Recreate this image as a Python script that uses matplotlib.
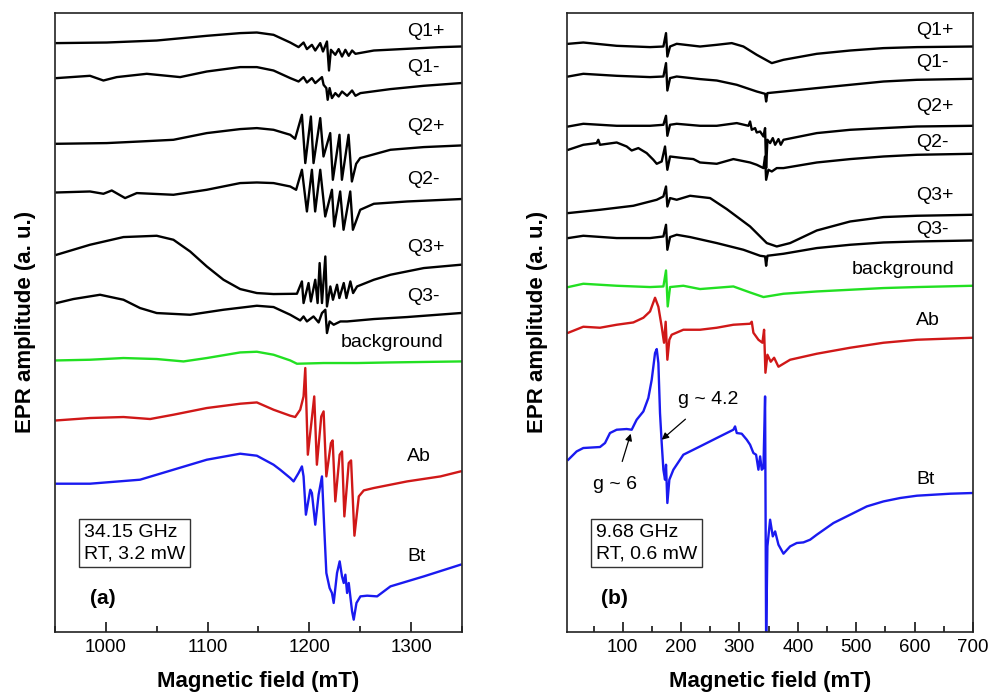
import numpy as np
import matplotlib

matplotlib.use("Agg")
import matplotlib.pyplot as plt
from matplotlib.ticker import MultipleLocator

plt.rcParams["font.family"] = ["Liberation Sans", "DejaVu Sans"]

# ---- panel (a): 34.15 GHz, field (mT) / amplitude (a.u., traces already offset)
A_Q1P = [(951.6, 588.7), (1000.9, 589.3), (1050, 591.3), (1099.2, 596), (1132, 598.7),
         (1148.4, 599.3), (1164.8, 597), (1181.2, 589.3), (1189.4, 584.7), (1194.3, 589.3),
         (1197.6, 582.7), (1202.5, 587), (1205.8, 581.3), (1210.7, 588.7), (1213.4, 580.3),
         (1217.3, 590.3), (1219.3, 561.3), (1221.2, 582), (1225.5, 577), (1228.8, 582.7),
         (1232.1, 575.3), (1235.4, 582), (1238.7, 576), (1242, 581.3), (1245.3, 578),
         (1263.4, 581.3), (1296.1, 583), (1328.9, 584.7), (1348.6, 585.3)]
A_Q1M = [(951.6, 553.7), (984.4, 556), (997.6, 551.3), (1010.7, 554.7), (1040.2, 558),
         (1073, 554.7), (1099.2, 560.3), (1132, 564.7), (1148.4, 564.7), (1164.8, 561.3),
         (1181.2, 553.7), (1189.4, 550.3), (1194.3, 554.7), (1197.6, 549.3), (1202.5, 553.7),
         (1205.8, 548.7), (1212.4, 554.7), (1214, 547), (1216.7, 543.7), (1218, 532),
         (1219.9, 543.7), (1222.2, 533.7), (1225.5, 538.7), (1228.8, 535.3), (1232.1, 540.3),
         (1237.1, 536), (1242, 541.3), (1245.3, 536), (1250.2, 538.7), (1279.7, 542.7),
         (1312.5, 546), (1348.6, 548.7)]
A_Q2P = [(951.6, 488), (1000.9, 488.7), (1033.6, 490.3), (1066.4, 492), (1099.2, 498.7),
         (1132, 502.7), (1148.4, 503.7), (1164.8, 502), (1181.2, 497), (1186, 493),
         (1192.7, 517), (1196, 468.7), (1201.5, 515.3), (1204.1, 468.7), (1210.7, 513.7),
         (1213.9, 475.3), (1220.5, 498.7), (1223.1, 452), (1229.6, 497), (1232, 452),
         (1238.5, 497), (1241.8, 450.3), (1246, 468), (1250, 473.7), (1279.7, 482),
         (1312.5, 484.7), (1348.6, 486.3)]
A_Q2M = [(951.6, 439.3), (984.4, 440.3), (997.6, 438), (1005.8, 441.3), (1018.9, 433.7),
         (1030.4, 438.7), (1066.4, 437), (1099.2, 442), (1132, 448.7), (1148.4, 449.3),
         (1164.8, 448.7), (1181.2, 445.3), (1187, 442), (1192.7, 462), (1197.6, 420.3),
         (1202.5, 462), (1205.7, 420.3), (1210.7, 462), (1215.6, 415.3), (1222.2, 442),
         (1224.4, 405.3), (1230.3, 440.3), (1233.6, 402), (1240.2, 440.3), (1242.8, 402),
         (1250, 422), (1263.4, 428), (1296.1, 430.3), (1348.6, 432.7)]
A_Q3P = [(951.6, 377), (984.4, 387), (1017.3, 394.7), (1050, 396), (1066.4, 392),
         (1082.8, 380.3), (1099.2, 365.3), (1115.6, 352), (1132, 342.7), (1148.4, 338.7),
         (1164.8, 337.7), (1187.8, 338), (1192.7, 350.3), (1194.3, 328.7), (1199.2, 348.7),
         (1201.5, 330.3), (1205.8, 352), (1208.1, 328.7), (1210.1, 368.7), (1212.4, 328.7),
         (1215.7, 375.3), (1217.3, 325.3), (1220.6, 345.3), (1223.2, 332), (1227.2, 347),
         (1229.5, 333.7), (1233.8, 348.7), (1236.4, 333.7), (1240.3, 350.3), (1243, 338.7),
         (1246.9, 345.3), (1263.4, 352), (1279.7, 357), (1312.5, 363.7), (1348.6, 367)]
A_Q3M = [(951.6, 328.7), (968, 332.7), (994.3, 337), (1017.3, 332), (1033.6, 323.7),
         (1050, 318.7), (1082.8, 317), (1115.6, 322), (1148.4, 326), (1164.8, 324.7),
         (1181.2, 317), (1191, 311.3), (1194.3, 315.3), (1197.6, 310.3), (1204.1, 315.3),
         (1209.1, 309.3), (1212.4, 318.7), (1215.7, 322), (1217.3, 298.7), (1219.9, 310.3),
         (1223.9, 307), (1230.5, 310.3), (1237.1, 310.3), (1263.4, 312.7), (1296.1, 314.7),
         (1348.6, 318.7)]
A_BG = [(951.6, 271.3), (984.4, 272), (1017.3, 273.7), (1050, 272.7), (1076.3, 270.3),
        (1099.2, 273.7), (1132, 279.3), (1148.4, 280), (1164.8, 277), (1181.2, 271.3),
        (1187.8, 268), (1214, 268.7), (1246.9, 268.7), (1279.7, 269.3), (1348.6, 270.3)]
A_AB = [(951.6, 211.3), (984.4, 213.7), (1017.3, 214.7), (1043.5, 212.7), (1066.4, 217),
        (1099.2, 223.7), (1132, 228), (1148.4, 229.3), (1164.8, 222), (1181.2, 216),
        (1186.1, 214.7), (1191, 222), (1194.3, 235.3), (1196, 263.7), (1198.5, 177),
        (1202.5, 213.7), (1204.8, 235.3), (1207.4, 167), (1211.7, 215.3), (1214, 220.3),
        (1216.7, 155.3), (1221.2, 188.7), (1222.9, 191.3), (1225.5, 130.3), (1229.8, 177),
        (1232.1, 180.3), (1234.4, 115.3), (1238.7, 168.7), (1241, 171.3), (1244.3, 96),
        (1248.6, 135.3), (1253.5, 141.3), (1263.4, 143.7), (1296.1, 150.3), (1328.9, 155.3),
        (1348.6, 160.3)]
A_BT = [(951.6, 148), (984.4, 148), (1033.6, 152), (1066.4, 162), (1099.2, 172),
        (1132, 178), (1148.4, 176), (1164.8, 167), (1171.3, 162), (1181.2, 153.7),
        (1184.5, 150.3), (1189.4, 158.7), (1192.7, 165.3), (1194.3, 155.3), (1196.6, 117),
        (1200.9, 142), (1202.5, 138.7), (1205.8, 107), (1209.1, 137), (1212.4, 155.3),
        (1214.7, 102), (1216.7, 58.7), (1219.9, 43.7), (1222.2, 38.7), (1223.9, 28.7),
        (1227.2, 58.7), (1229.8, 70.3), (1232.1, 55.3), (1233.8, 48.7), (1235.4, 57),
        (1237.1, 38.7), (1238.7, 48.7), (1242, 20.3), (1243.6, 12), (1246.3, 28.7),
        (1250.2, 35.3), (1256.8, 36), (1266.6, 35.3), (1279.7, 45.3), (1312.5, 55.3),
        (1348.6, 67)]

# ---- panel (b): 9.68 GHz
B_Q1P = [(6.8, 588), (32.5, 589.3), (89.7, 586), (146.8, 584.7), (169.7, 585.3),
         (174.2, 598.7), (176.5, 575.3), (181.1, 585.3), (192.5, 588), (232.5, 585.3),
         (261.1, 587), (286.8, 588.7), (306.8, 585.3), (329.6, 577), (355.4, 568.7),
         (375.4, 572), (432.5, 578), (489.7, 581.3), (546.8, 583.7), (604, 584.7), (700, 585.3)]
B_Q1M = [(6.8, 555.3), (32.5, 558), (89.7, 556), (146.8, 554.7), (169.7, 555.3),
         (174.2, 568.7), (176.5, 541.3), (181.1, 553.7), (192.5, 555.3), (232.5, 552.7),
         (261.1, 551.3), (295.4, 547), (329.6, 540.3), (343.9, 538), (345.7, 530.3),
         (347.9, 538.7), (375.4, 540.3), (432.5, 543.7), (489.7, 547), (546.8, 550.3),
         (604, 552), (700, 553)]
B_Q2P = [(6.8, 505.3), (32.5, 508), (89.7, 506), (146.8, 506), (169.7, 507), (174.2, 516),
         (176.5, 496), (181.1, 507), (192.5, 508), (232.5, 506), (261.1, 506), (295.4, 508.7),
         (315.4, 506), (318.2, 510.3), (321.1, 502), (326.8, 503.7), (329.6, 499.3),
         (335.4, 500.3), (341.1, 495.3), (343.9, 503.7), (345.7, 463.7), (347.9, 492),
         (352.5, 488.7), (357.1, 493.7), (361.1, 487), (366.8, 492.7), (370.8, 487),
         (375.4, 492), (432.5, 498.7), (489.7, 502), (546.8, 503.7), (604, 505.3), (700, 506)]
B_Q2M = [(6.8, 482), (32.5, 487), (55.4, 488.7), (58.2, 492), (61.1, 487), (89.7, 489.3),
         (106.8, 485.3), (115.4, 481.3), (126.8, 483.7), (141.1, 478.7), (152.5, 472),
         (158.3, 468), (166.8, 470.3), (172.5, 485.3), (176.5, 462), (181.1, 475.3),
         (203.9, 473.7), (221.1, 472.7), (232.5, 469.3), (261.1, 468), (289.6, 472.7),
         (318.2, 469.3), (329.6, 467), (341.1, 463.7), (343.9, 475.3), (345.7, 452),
         (349.6, 462), (355.4, 460.3), (363.9, 463.7), (375.4, 463.7), (432.5, 469.3),
         (489.7, 472.7), (546.8, 475.3), (604, 477), (700, 478)]
B_Q3P = [(6.8, 418.7), (61.1, 422), (118.2, 426), (158.3, 432), (169.7, 435.3),
         (174.2, 445.3), (176.5, 425.3), (181.1, 433.7), (192.5, 432), (215.4, 436),
         (249.7, 433.7), (278.2, 422.7), (318.2, 405.3), (346.8, 388.7), (363.9, 385.3),
         (386.8, 388.7), (432.5, 401.3), (489.7, 410.3), (546.8, 414.7), (604, 416), (700, 417)]
B_Q3M = [(6.8, 393.7), (32.5, 396), (89.7, 393.7), (146.8, 393.7), (169.7, 395.3),
         (174.2, 407), (176.5, 382), (181.1, 394.7), (192.5, 397), (215.4, 394.7),
         (261.1, 388.7), (306.8, 382), (335.4, 376), (343.9, 375.3), (345.7, 366),
         (347.9, 376), (375.4, 378), (432.5, 383.7), (489.7, 387), (546.8, 389.3),
         (604, 390.3), (700, 391.3)]
B_BG = [(6.8, 344.7), (32.5, 348), (89.7, 346), (146.8, 344.7), (169.7, 345.3),
        (174.2, 361.3), (177.1, 325.3), (181.1, 344.7), (203.9, 346), (232.5, 342.7),
        (289.6, 345.3), (318.2, 339.3), (341.1, 334.7), (375.4, 338), (432.5, 340.3),
        (489.7, 342), (546.8, 343.7), (604, 344.7), (700, 346)]
B_AB = [(6.8, 299), (32.5, 305), (61.1, 304), (89.7, 307), (118.2, 309.3), (135.4, 314),
        (146.8, 320.3), (155.4, 334), (161.1, 325), (166.8, 305), (170.8, 289),
        (173.6, 310), (176.5, 272), (179.9, 292), (183.9, 297), (203.9, 302), (232.5, 302),
        (261.1, 304), (289.6, 307), (318.2, 308), (321.1, 310), (323.9, 299), (332.5, 292),
        (339.3, 289), (342.2, 302), (344.5, 259), (347.9, 277), (353.6, 270), (359.4, 274),
        (366.8, 265), (372.5, 267), (386.8, 272), (432.5, 278), (489.7, 284), (546.8, 289),
        (604, 292), (700, 294)]
B_BT = [(6.8, 172), (21.1, 180.3), (32.5, 183.7), (61.1, 184.7), (69.7, 188.7),
        (78.2, 198.7), (89.7, 202), (106.8, 202.7), (115.4, 202), (123.9, 212),
        (135.4, 220.3), (143.9, 233.7), (149.7, 252), (155.4, 278.7), (158.3, 282.7),
        (161.1, 268.7), (163.9, 218.7), (166.8, 188.7), (169.7, 162), (172.5, 152),
        (174.2, 167), (176.5, 128.7), (179.9, 152), (186.8, 162), (203.9, 177),
        (232.5, 185.3), (261.1, 193.7), (289.6, 202), (292.5, 205.3), (295.4, 198.7),
        (303.9, 198), (312.5, 192), (318.2, 187), (323.9, 178.7), (328.5, 177),
        (332.5, 162), (335.4, 175.3), (338.2, 162), (341.1, 163.7), (343.9, 235.3),
        (345.7, -10), (347.9, 85.3), (352.5, 112), (357.1, 95.3), (361.1, 100.3),
        (366.8, 87), (375.4, 78), (386.8, 85.3), (398.2, 88.7), (409.6, 89.3),
        (421.1, 92), (432.5, 97), (461.1, 108.7), (489.7, 117), (518.2, 125.3),
        (546.8, 130.3), (575.4, 133.7), (604, 136), (661.1, 138), (700, 138.7)]

LABELS = ["Q1+", "Q1-", "Q2+", "Q2-", "Q3+", "Q3-", "background", "Ab", "Bt"]
A_LABEL_Y = [600, 564, 505, 452, 384, 335, 289, 175, 75]
B_LABEL_Y = [601, 569, 525, 489, 436, 402, 362, 311, 152]

BLACK, GREEN, RED, BLUE = "#000000", "#22e022", "#d01818", "#1a1af0"
COLORS = [BLACK] * 6 + [GREEN, RED, BLUE]


def draw_panel(ax, traces, label_y, xlim, x_label, x_bg, info, tag):
    for pts, color in zip(traces, COLORS):
        arr = np.array(pts)
        ax.plot(arr[:, 0], arr[:, 1], color=color, lw=1.7, solid_joinstyle="round")
    for lab, y in zip(LABELS, label_y):
        if lab == "background":
            ax.text(x_bg, y, lab, ha="right", va="center", fontsize=14)
        else:
            ax.text(x_label, y, lab, ha="left", va="center", fontsize=14)
    ax.text(0.072, 0.143, info, transform=ax.transAxes, ha="left", va="center",
            fontsize=14, linespacing=1.3,
            bbox=dict(boxstyle="square,pad=0.25", fc="white", ec="#333333", lw=1.0))
    ax.text(0.085, 0.054, tag, transform=ax.transAxes, ha="left", va="center",
            fontsize=15, fontweight="bold")
    ax.set_xlim(*xlim)
    ax.set_ylim(0, 619)
    ax.set_yticks([])
    ax.tick_params(axis="x", which="both", direction="in", top=False, labelsize=13.5, pad=5)
    ax.tick_params(axis="x", which="major", length=7, width=1.1)
    ax.tick_params(axis="x", which="minor", length=4, width=1.1)
    for sp in ax.spines.values():
        sp.set_linewidth(1.2)
        sp.set_color("#222222")
    ax.set_xlabel("Magnetic field (mT)", fontsize=16, fontweight="bold")
    ax.xaxis.set_label_coords(0.5, -0.081)
    ax.xaxis.label.set_va("center")
    ax.set_ylabel("EPR amplitude (a. u.)", fontsize=16, fontweight="bold")
    ax.yaxis.set_label_coords(-0.073, 0.5)
    ax.yaxis.label.set_va("center")


fig = plt.figure(figsize=(9.98, 6.93), dpi=100)
ax_a = fig.add_axes([0.0551, 0.0885, 0.4078, 0.893])
ax_b = fig.add_axes([0.5678, 0.0885, 0.4071, 0.893])

draw_panel(ax_a, [A_Q1P, A_Q1M, A_Q2P, A_Q2M, A_Q3P, A_Q3M, A_BG, A_AB, A_BT],
           A_LABEL_Y, (950, 1350), 1296, 1332, "34.15 GHz\nRT, 3.2 mW", "(a)")
ax_a.xaxis.set_major_locator(MultipleLocator(100))
ax_a.xaxis.set_minor_locator(MultipleLocator(50))

draw_panel(ax_b, [B_Q1P, B_Q1M, B_Q2P, B_Q2M, B_Q3P, B_Q3M, B_BG, B_AB, B_BT],
           B_LABEL_Y, (4, 700), 603, 668, "9.68 GHz\nRT, 0.6 mW", "(b)")
ax_b.set_xticks([100, 200, 300, 400, 500, 600, 700])
ax_b.xaxis.set_minor_locator(MultipleLocator(50))

ax_b.annotate("g ~ 4.2", xy=(166.8, 192), xytext=(246, 232), ha="center", va="center",
              fontsize=14, arrowprops=dict(arrowstyle="-|>", color="black", lw=0.9,
                                           shrinkA=9, shrinkB=0, mutation_scale=10))
ax_b.annotate("g ~ 6", xy=(113.7, 198), xytext=(87, 147), ha="center", va="center",
              fontsize=14, arrowprops=dict(arrowstyle="-|>", color="black", lw=0.9,
                                           shrinkA=9, shrinkB=0, mutation_scale=10))

fig.savefig("out.png", dpi=100)
